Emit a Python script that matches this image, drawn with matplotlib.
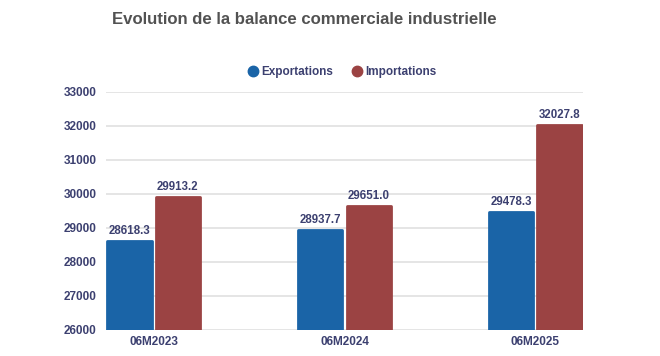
import numpy as np
import matplotlib
matplotlib.use('agg')
import matplotlib.pyplot as plt
from matplotlib.lines import Line2D

plt.rcParams['font.family'] = ['Liberation Sans', 'DejaVu Sans']

# Donnees
periodes = ['06M2023', '06M2024', '06M2025']
exportations = [28618.3, 28937.7, 29478.3]
importations = [29913.2, 29651.0, 32027.8]
yticks = [26000, 27000, 28000, 29000, 30000, 31000, 32000, 33000]

bleu = '#1a64a7'
rouge = '#9b4343'
navy = '#3c4070'

fig = plt.figure(figsize=(6.6, 3.56), dpi=100)
ax = fig.add_axes([106 / 660, 1 - 330 / 356, 477 / 660, 238 / 356])

x = np.arange(len(periodes))
w = 0.231
off = 0.126
b1 = ax.bar(x - off, np.array(exportations) - 26000, w, bottom=26000, color=bleu,
            edgecolor=bleu, linewidth=2, joinstyle='round', zorder=3)
b2 = ax.bar(x + off, np.array(importations) - 26000, w, bottom=26000, color=rouge,
            edgecolor=rouge, linewidth=2, joinstyle='round', zorder=3)

for bars, vals in ((b1, exportations), (b2, importations)):
    for r, v in zip(bars, vals):
        ax.annotate(f'{v:.1f}', (r.get_x() + r.get_width() / 2, v),
                    xytext=(0, 3), textcoords='offset points', ha='center',
                    va='bottom', fontsize=8.3, fontweight='bold', color=navy)

ax.set_xlim(-0.249, 2.249)
ax.set_ylim(26000, 33000)
ax.set_yticks(yticks)
ax.set_yticklabels([str(t) for t in yticks])
ax.set_xticks(x)
ax.set_xticklabels(periodes)
ax.tick_params(length=0, labelsize=8.5, labelcolor=navy)
ax.tick_params(axis='y', pad=7)
ax.tick_params(axis='x', pad=4)
for lab in ax.get_xticklabels() + ax.get_yticklabels():
    lab.set_fontweight('bold')
ax.grid(axis='y', color='#e3e3e3', linewidth=1.3, zorder=0)
for s in ax.spines.values():
    s.set_visible(False)

fig.text(112 / 660, 1 - 19 / 356, 'Evolution de la balance commerciale industrielle',
         fontsize=12.1, fontweight='bold', color='#525252', va='center', ha='left')

handles = [Line2D([], [], marker='o', ls='', ms=7.5, color=bleu),
           Line2D([], [], marker='o', ls='', ms=7.5, color=rouge)]
fig.legend(handles, ['Exportations', 'Importations'], loc='center',
           bbox_to_anchor=(341 / 660, 1 - 72 / 356), ncol=2, frameon=False,
           handletextpad=0.1, columnspacing=1.4, handlelength=1.2,
           prop={'size': 8.5, 'weight': 'bold'}, labelcolor=navy)

fig.savefig('out.png', dpi=100)
